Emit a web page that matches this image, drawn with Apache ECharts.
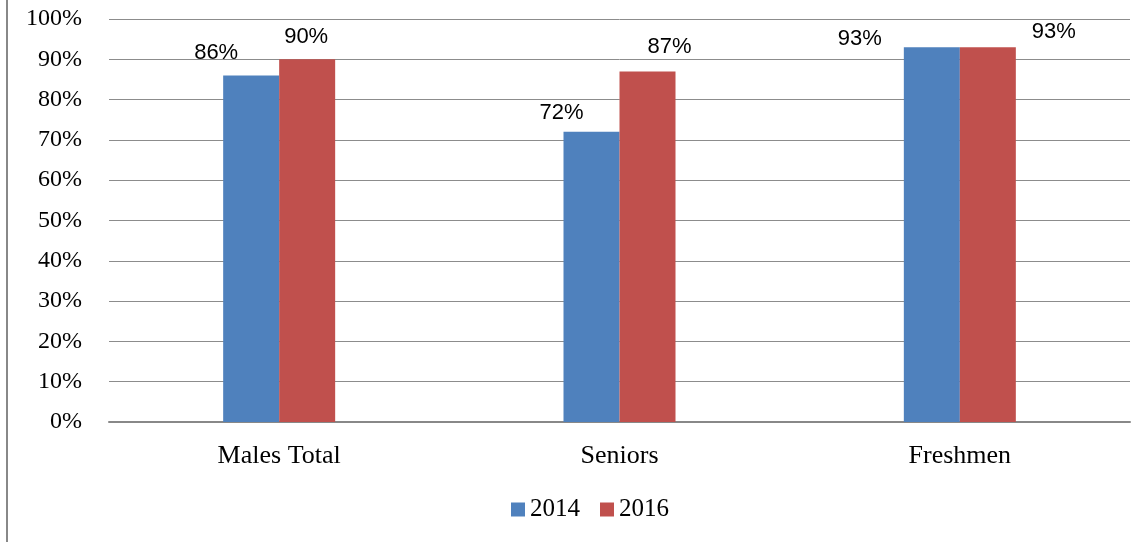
<!DOCTYPE html>
<html>
<head>
<meta charset="utf-8">
<script src="https://cdn.jsdelivr.net/npm/echarts@6/dist/echarts.min.js"></script>
<style>
  html, body { margin: 0; padding: 0; background: #fff; }
  #chart { width: 1143px; height: 542px; }
</style>
</head>
<body>
<div id="chart"></div>
<script>
// data
const categories = ['Males Total', 'Seniors', 'Freshmen']
const values2014 = [86, 72, 93]
const values2016 = [90, 87, 93]
const yTicks = { min: 0, max: 100, interval: 10 }

// label nudges [dx, dy] so the labels sit where the original put them
const nudge2014 = [[-35, -12], [-30, -9], [-72, 2]]
const nudge2016 = [[-1, -12], [22, -14], [66, -5]]

const serif = '"Liberation Serif", "Times New Roman", serif'
const sans = '"Liberation Sans", Arial, sans-serif'

function withLabels(values, nudges) {
  return values.map((v, i) => ({ value: v, label: { offset: nudges[i] } }))
}

const chart = echarts.init(document.getElementById('chart'))

const barLabel = {
  show: true,
  position: 'top',
  distance: 0,
  formatter: '{c}%',
  color: '#000',
  fontFamily: sans,
  fontSize: 22,
  lineHeight: 20
}

chart.setOption({
  backgroundColor: '#fff',
  animation: false,
  graphic: [
    // chart frame, only the left edge shows in the original
    { type: 'line', shape: { x1: 7, y1: 0, x2: 7, y2: 542 }, style: { stroke: '#888', lineWidth: 2 } }
  ],
  legend: {
    data: ['2014', '2016'],
    left: 506,
    top: 492,
    itemWidth: 14,
    itemHeight: 14,
    itemGap: 20,
    icon: 'rect',
    textStyle: { color: '#000', fontFamily: serif, fontSize: 25 }
  },
  grid: { left: 109, right: 13, top: 19, bottom: 120 },
  xAxis: {
    type: 'category',
    data: categories,
    axisLine: { lineStyle: { color: '#888', width: 2 } },
    axisTick: { show: false },
    axisLabel: { color: '#000', fontFamily: serif, fontSize: 26, margin: 21 }
  },
  yAxis: {
    type: 'value',
    min: yTicks.min,
    max: yTicks.max,
    interval: yTicks.interval,
    axisLine: { show: false },
    axisTick: { show: false },
    axisLabel: { color: '#000', fontFamily: serif, fontSize: 24, margin: 27, formatter: '{value}%' },
    splitLine: { lineStyle: { color: '#8c8c8c', width: 1 } }
  },
  series: [
    {
      name: '2014',
      type: 'bar',
      data: withLabels(values2014, nudge2014),
      barWidth: 56,
      barGap: '0%',
      itemStyle: { color: '#4F81BD' },
      label: barLabel
    },
    {
      name: '2016',
      type: 'bar',
      data: withLabels(values2016, nudge2016),
      barWidth: 56,
      itemStyle: { color: '#C0504D' },
      label: barLabel
    }
  ]
})
</script>
</body>
</html>
